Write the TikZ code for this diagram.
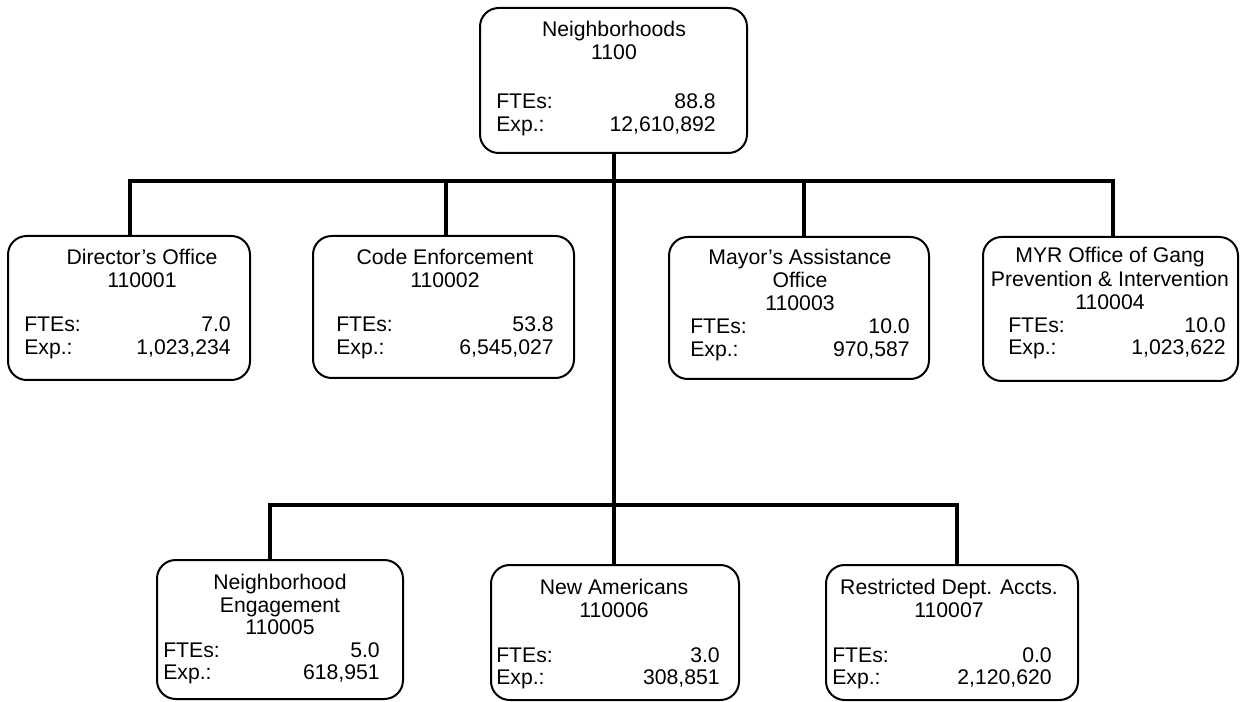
\documentclass[tikz,border=0pt]{standalone}
\usepackage{fontspec}
\setmainfont{Liberation Sans}
\begin{document}
\begin{tikzpicture}[x=0.75pt,y=-0.75pt,
  box/.style={draw=black, line width=1.5pt, rounded corners=14pt, inner sep=0pt, fill=white},
  txt/.style={inner sep=0pt, font=\fontsize{15.9}{17}\selectfont},
  conn/.style={draw=black, line width=3pt}]
\useasboundingbox (0,0) rectangle (1243,702);
\newcommand{\myobox}[5]{%
  \pgfmathsetmacro\bw{(#4-#2)*0.75}\pgfmathsetmacro\bh{(#5-#3)*0.75}%
  \node[box, minimum width=\bw pt, minimum height=\bh pt] (#1) at ({(#2+#4)/2},{(#3+#5)/2}) {};}
\newcommand{\myvals}[7]{% name, lx, rx, y fte, y exp, fte, exp
  \node[txt, anchor=base west] (#1fl) at (#2,#4) {FTEs:};
  \node[txt, anchor=base east] (#1fv) at (#3,#4) {#6};
  \node[txt, anchor=base west] (#1el) at (#2,#5) {Exp.:};
  \node[txt, anchor=base east] (#1ev) at (#3,#5) {#7};}

% junction coordinates
\coordinate (j0) at (614,181);
\coordinate (j1) at (130,181);
\coordinate (j2) at (446,181);
\coordinate (j3) at (804,181);
\coordinate (j4) at (1113,181);
\coordinate (k0) at (614,505);
\coordinate (k1) at (270,505);
\coordinate (k3) at (957,505);

% boxes
\myobox{top}{480}{8}{747}{153}
\myobox{d1}{8}{236}{250}{380}
\myobox{d2}{313}{236}{574}{378}
\myobox{d3}{669}{237}{929}{379}
\myobox{d4}{983}{237}{1238}{381}
\myobox{e1}{157}{560}{403}{699}
\myobox{e2}{491}{565}{739}{700}
\myobox{e3}{826}{565}{1078}{700}

% connectors
\draw[conn] (top.south -| j0) -- (j0 |- e2.north);
\draw[conn] (j1 |- d1.north) -- (j1) -- (j4) -- (j4 |- d4.north);
\draw[conn] (j2) -- (j2 |- d2.north);
\draw[conn] (j3) -- (j3 |- d3.north);
\draw[conn] (k1 |- e1.north) -- (k1) -- (k3) -- (k3 |- e3.north);

% texts
\node[txt, anchor=base] (topt1) at (614,37) {Neighborhoods};
\node[txt, anchor=base] (topt2) at (614,60) {1100};
\myvals{top}{496}{716}{109}{132}{88.8}{12,610,892}

\node[txt, anchor=base] (d1t1) at (142,265) {Director’s Office};
\node[txt, anchor=base] (d1t2) at (142,288) {110001};
\myvals{d1}{24}{231}{332}{355}{7.0}{1,023,234}

\node[txt, anchor=base] (d2t1) at (445,265) {Code Enforcement};
\node[txt, anchor=base] (d2t2) at (445,288) {110002};
\myvals{d2}{336}{554}{332}{355}{53.8}{6,545,027}

\node[txt, anchor=base] (d3t1) at (800,265) {Mayor’s Assistance};
\node[txt, anchor=base] (d3t2) at (800,288) {Office};
\node[txt, anchor=base] (d3t3) at (800,311) {110003};
\myvals{d3}{690}{910}{334}{357}{10.0}{970,587}

\node[txt, anchor=base] (d4t1) at (1110,263) {MYR Office of Gang};
\node[txt, anchor=base] (d4t2) at (1110,287) {Prevention \& Intervention};
\node[txt, anchor=base] (d4t3) at (1110,310) {110004};
\myvals{d4}{1008}{1226}{333}{355}{10.0}{1,023,622}

\node[txt, anchor=base] (e1t1) at (280,589) {Neighborhood};
\node[txt, anchor=base] (e1t2) at (280,612) {Engagement};
\node[txt, anchor=base] (e1t3) at (280,634) {110005};
\myvals{e1}{163}{380}{657}{679}{5.0}{618,951}

\node[txt, anchor=base] (e2t1) at (614,594) {New Americans};
\node[txt, anchor=base] (e2t2) at (614,617) {110006};
\myvals{e2}{496}{720}{662}{684}{3.0}{308,851}

\node[txt, anchor=base] (e3t1) at (949,594) {Restricted Dept. Accts.};
\node[txt, anchor=base] (e3t2) at (949,617) {110007};
\myvals{e3}{832}{1052}{662}{684}{0.0}{2,120,620}
\end{tikzpicture}
\end{document}
